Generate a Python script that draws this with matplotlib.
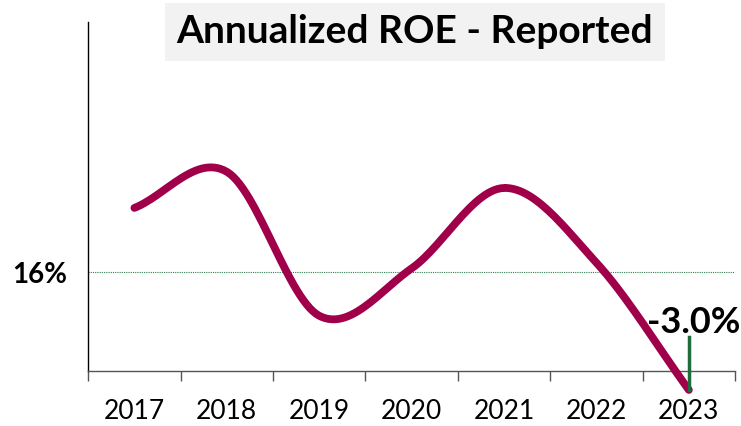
import numpy as np
import matplotlib.pyplot as plt

# data
years = ["2017", "2018", "2019", "2020", "2021", "2022", "2023"]
roe = [26.2, 32.0, 8.9, 16.5, 29.4, 17.4, -3.0]
benchmark = 16.0
last_label = "-3.0%"

plt.rcParams["font.family"] = ["Lato", "DejaVu Sans"]


def smooth(x, y, steps=30):
    # cardinal (Catmull-Rom) spline through the points, like Excel's smoothed line
    x = np.asarray(x, float)
    y = np.asarray(y, float)
    px = np.concatenate([[2 * x[0] - x[1]], x, [2 * x[-1] - x[-2]]])
    py = np.concatenate([[2 * y[0] - y[1]], y, [2 * y[-1] - y[-2]]])
    xs, ys = [], []
    t = np.linspace(0, 1, steps)
    for i in range(1, len(px) - 2):
        for p, out in ((px, xs), (py, ys)):
            p0, p1, p2, p3 = p[i - 1], p[i], p[i + 1], p[i + 2]
            out.extend(0.5 * (2 * p1 + (-p0 + p2) * t
                              + (2 * p0 - 5 * p1 + 4 * p2 - p3) * t ** 2
                              + (-p0 + 3 * p1 - 3 * p2 + p3) * t ** 3))
    return np.array(xs), np.array(ys)


fig = plt.figure(figsize=(7.41, 4.26), dpi=100)
ax = fig.add_axes([0.119, 0.070, 0.873, 0.878])

x = np.arange(len(years))
sx, sy = smooth(x, roe)
ax.plot(sx, sy, color="#a0004a", lw=5.6, solid_capstyle="round", zorder=3)

# benchmark line
ax.axhline(benchmark, color="#2e7d4a", lw=0.8, ls=(0, (1, 1)), zorder=1)
ax.text(-0.73, benchmark - 0.6, f"{benchmark:.0f}%", ha="right", va="center",
        fontsize=20, fontweight="bold", transform=ax.transData)

# marker line + label for last value
ax.plot([x[-1], x[-1]], [roe[-1], 5.5], color="#1e6b3c", lw=2.5, zorder=4)
ax.text(x[-1] + 0.05, 7.8, last_label, ha="center", va="center",
        fontsize=26, fontweight="bold", zorder=5)

ax.set_xlim(-0.5, 6.5)
ax.set_ylim(-4, 56)

for s in ["top", "right"]:
    ax.spines[s].set_visible(False)
ax.spines["bottom"].set_position(("data", 0))
ax.spines["left"].set_bounds(0, 56)
ax.spines["left"].set_linewidth(1.0)
ax.spines["bottom"].set_linewidth(1.0)
ax.spines["bottom"].set_color("#555555")

ax.set_yticks([])
ax.set_xticks(x)
ax.set_xticklabels(years, fontsize=19)
ax.tick_params(axis="x", which="major", length=0, pad=20)
ax.set_xticks(np.arange(-0.5, 7, 1), minor=True)
ax.tick_params(axis="x", which="minor", length=7, width=1, color="#555555",
               direction="out")

fig.text(0.56, 0.925, "Annualized ROE - Reported", ha="center", va="center",
         fontsize=28, fontweight="bold",
         bbox=dict(boxstyle="square,pad=0.3", fc="#f2f2f2", ec="none"))

fig.savefig("out.png", dpi=100)
